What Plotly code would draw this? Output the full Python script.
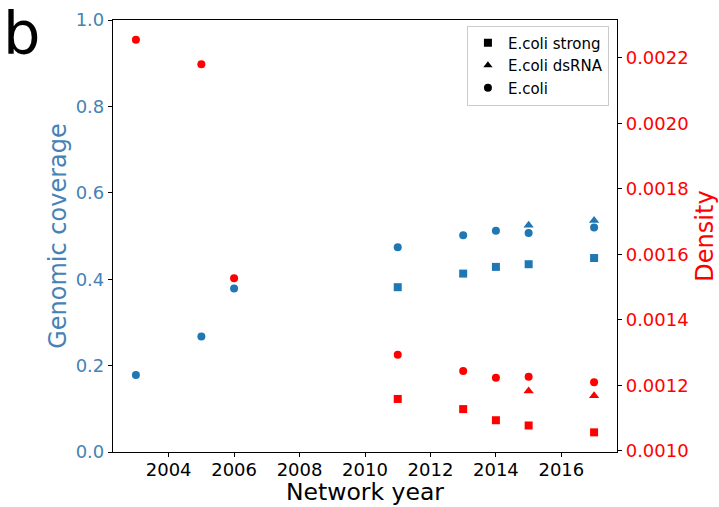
import plotly.graph_objects as go

years_circle = [2003, 2005, 2006, 2011, 2013, 2014, 2015, 2017]
cov_circle = [0.178, 0.2675, 0.3785, 0.474, 0.502, 0.512, 0.507, 0.5195]
den_circle = [0.002255, 0.00218, 0.001527, 0.001293, 0.001243, 0.001223, 0.001226, 0.001209]

years_square = [2011, 2013, 2014, 2015, 2017]
cov_square = [0.3815, 0.413, 0.4285, 0.4347, 0.449]
den_square = [0.001158, 0.001127, 0.001093, 0.001077, 0.001056]

years_tri = [2015, 2017]
cov_tri = [0.525, 0.536]
den_tri = [0.001182, 0.001168]

legend_names = ["E.coli strong", "E.coli dsRNA", "E.coli"]
legend_symbols = ["square", "triangle-up", "circle"]

BLUE = "#1f77b4"
RED = "#ff0000"
STEEL = "#4682b4"
FONT = "DejaVu Sans"

fig = go.Figure()

def add(x, y, sym, color, axis, size):
    fig.add_trace(go.Scatter(x=x, y=y, mode="markers", yaxis=axis, showlegend=False,
                             marker=dict(symbol=sym, color=color, size=size, line=dict(width=0)),
                             hoverinfo="skip"))

add(years_circle, cov_circle, "circle", BLUE, "y", 8)
add(years_square, cov_square, "square", BLUE, "y", 8)
add(years_tri, cov_tri, "triangle-up", BLUE, "y", 9)
add(years_circle, den_circle, "circle", RED, "y2", 8)
add(years_square, den_square, "square", RED, "y2", 8)
add(years_tri, den_tri, "triangle-up", RED, "y2", 9)

for name, sym in zip(legend_names, legend_symbols):
    fig.add_trace(go.Scatter(x=[None], y=[None], mode="markers", name=name, yaxis="y",
                             marker=dict(symbol=sym, color="black", size=8)))

fig.update_layout(
    width=719, height=507,
    margin=dict(l=113, r=102, t=19.5, b=55, autoexpand=False),
    paper_bgcolor="white", plot_bgcolor="white",
    font=dict(family=FONT, size=18, color="black"),
    xaxis=dict(range=[2002.3, 2017.7], tickvals=[2004, 2006, 2008, 2010, 2012, 2014, 2016],
               showline=True, linecolor="black", linewidth=1.2, mirror=True,
               ticks="outside", ticklen=4, tickcolor="black", showgrid=False, zeroline=False,
               ticklabelstandoff=-3,
               tickfont=dict(size=18, color="black")),
    yaxis=dict(range=[0, 1], tickvals=[0, 0.2, 0.4, 0.6, 0.8, 1.0], tickformat=".1f",
               showline=True, linecolor="black", linewidth=1.2,
               ticks="outside", ticklen=4, tickcolor="black", showgrid=False, zeroline=False,
               title=dict(text="Genomic coverage", font=dict(size=24, color=STEEL), standoff=2),
               tickfont=dict(size=18, color=STEEL)),
    yaxis2=dict(range=[0.000996, 0.0023153], overlaying="y", side="right",
                tickvals=[0.0010, 0.0012, 0.0014, 0.0016, 0.0018, 0.0020, 0.0022], tickformat=".4f",
                showline=True, linecolor="black", linewidth=1.2,
                ticks="outside", ticklen=4, tickcolor="black", showgrid=False, zeroline=False,
                title=dict(text="Density", font=dict(size=24, color=RED), standoff=8),
                tickfont=dict(size=18, color=RED)),
    legend=dict(x=0.984, y=0.987, xanchor="right", yanchor="top", bgcolor="white",
                bordercolor="#cccccc", borderwidth=1, font=dict(size=15, color="black"),
                itemwidth=30, tracegroupgap=0),
    annotations=[
        dict(text="b", x=-0.223, y=1.054, xref="paper", yref="paper", xanchor="left",
             yanchor="top", showarrow=False, font=dict(size=59, color="black", family=FONT)),
        dict(text="Network year", x=0.5, y=-0.1272, xref="paper", yref="paper", xanchor="center",
             yanchor="bottom", showarrow=False, borderpad=0,
             font=dict(size=23.5, color="black", family=FONT)),
    ],
)

fig.write_html("out.html", config={"displayModeBar": False},
               post_script="document.body.style.margin='0px';")
